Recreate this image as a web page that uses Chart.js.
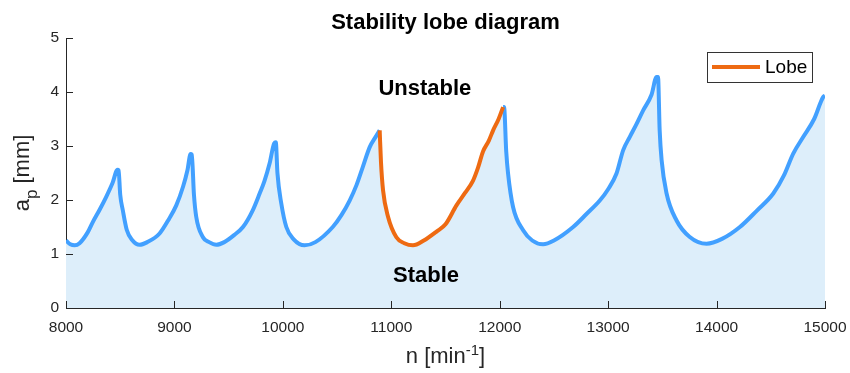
<!DOCTYPE html>
<html>
<head>
<meta charset="utf-8">
<script src="https://cdn.jsdelivr.net/npm/chart.js@4/dist/chart.umd.min.js"></script>
<style>
  html, body { margin: 0; padding: 0; background: #fff; }
  #wrap { width: 850px; height: 373px; }
</style>
</head>
<body>
<div id="wrap"><canvas id="lobeChart"></canvas></div>
<script>
// spindle speed n [min^-1] and stability limit a_p [mm]
var limitN = [8000, 8040, 8080, 8125, 8200, 8247, 8310, 8371, 8430, 8475, 8485, 8500, 8524, 8560, 8610, 8678, 8750, 8863, 8950, 9017, 9080, 9120, 9149, 9160, 9180, 9201, 9263, 9320, 9386, 9460, 9550, 9632, 9720, 9786, 9830, 9878, 9920, 9935, 9950, 9986, 10032, 10100, 10201, 10300, 10460, 10540, 10616, 10680, 10737, 10801, 10850, 10893,
  10905, 10924, 10970, 11047, 11120, 11200, 11300, 11420, 11500, 11601, 11680, 11754, 11800, 11846, 11900, 11939, 11990, 12031,
  12040, 12060, 12077, 12123, 12216, 12300, 12400, 12500, 12677, 12800, 12923, 13000, 13077, 13138, 13200, 13260, 13323, 13400, 13447, 13460, 13475, 13493, 13539, 13631, 13750, 13908, 14050, 14215, 14370, 14523, 14620, 14707, 14800, 14900, 14984, 15000];
var limitAp = [1.25, 1.18, 1.16, 1.20, 1.40, 1.59, 1.82, 2.06, 2.32, 2.56, 2.55, 2.10, 1.81, 1.45, 1.26, 1.17, 1.22, 1.38, 1.65, 1.90, 2.25, 2.55, 2.85, 2.84, 2.10, 1.69, 1.31, 1.22, 1.17, 1.22, 1.35, 1.50, 1.80, 2.12, 2.35, 2.68, 3.05, 3.07, 2.50, 1.93, 1.50, 1.27, 1.16, 1.22, 1.50, 1.72, 1.99, 2.28, 2.61, 2.98, 3.15, 3.29,
  2.70, 2.18, 1.69, 1.31, 1.20, 1.16, 1.25, 1.42, 1.55, 1.90, 2.13, 2.36, 2.60, 2.90, 3.10, 3.29, 3.50, 3.72,
  3.72, 2.90, 2.49, 1.87, 1.44, 1.25, 1.18, 1.25, 1.50, 1.74, 1.99, 2.20, 2.49, 2.92, 3.17, 3.40, 3.66, 3.95, 4.28, 4.28, 3.30, 2.74, 2.12, 1.62, 1.32, 1.19, 1.28, 1.50, 1.80, 2.12, 2.45, 2.86, 3.17, 3.50, 3.91, 3.93];

// one lobe highlighted
var lobeN = [10893, 10905, 10924, 10970, 11047, 11120, 11200, 11300, 11420, 11500, 11601, 11680, 11754, 11800, 11846, 11900, 11939, 11990, 12031];
var lobeAp = [3.29, 2.70, 2.18, 1.69, 1.31, 1.20, 1.16, 1.25, 1.42, 1.55, 1.90, 2.13, 2.36, 2.60, 2.90, 3.10, 3.29, 3.50, 3.72];

var xTicks = [8000, 9000, 10000, 11000, 12000, 13000, 14000, 15000];
var yTicks = [0, 1, 2, 3, 4, 5];

var blue = '#42a0ff';
var orange = '#ee6a12';
var axisColor = '#262626';
var font = '"Liberation Sans", Arial, Helvetica, sans-serif';

var lobeStart = lobeN[0];
var lobeEnd = lobeN[lobeN.length - 1];

function toPoints(xs, ys, skipLobe) {
    var pts = [];
    for (var i = 0; i < xs.length; i++) {
        // leave a gap where the orange lobe is drawn
        if (skipLobe && xs[i] > lobeStart && xs[i] < lobeEnd) {
            pts.push({x: xs[i], y: null});
        } else {
            pts.push({x: xs[i], y: ys[i]});
        }
    }
    return pts;
}

var overlay = {
    id: 'overlay',
    afterDatasetsDraw: function(chart) {
        var ctx = chart.ctx;
        var area = chart.chartArea;
        var x = chart.scales.x;
        var y = chart.scales.y;
        ctx.save();

        // inward tick marks
        ctx.strokeStyle = axisColor;
        ctx.lineWidth = 1;
        ctx.beginPath();
        xTicks.forEach(function(v) {
            var px = Math.round(x.getPixelForValue(v)) + 0.5;
            ctx.moveTo(px, area.bottom);
            ctx.lineTo(px, area.bottom - 7);
        });
        yTicks.forEach(function(v) {
            var py = Math.round(y.getPixelForValue(v)) + 0.5;
            ctx.moveTo(area.left, py);
            ctx.lineTo(area.left + 7, py);
        });
        ctx.stroke();

        // region labels
        ctx.fillStyle = '#000';
        ctx.font = 'bold 22px ' + font;
        ctx.textAlign = 'center';
        ctx.textBaseline = 'middle';
        ctx.fillText('Unstable', x.getPixelForValue(11310), y.getPixelForValue(4.05));
        ctx.fillText('Stable', x.getPixelForValue(11320), y.getPixelForValue(0.6));
        ctx.restore();
    },
    afterDraw: function(chart) {
        var ctx = chart.ctx;
        var area = chart.chartArea;
        var cx = (area.left + area.right) / 2;
        var cy = (area.top + area.bottom) / 2;
        ctx.save();
        ctx.fillStyle = '#000';
        ctx.textBaseline = 'alphabetic';

        // title
        ctx.font = 'bold 22px ' + font;
        ctx.textAlign = 'center';
        ctx.fillText('Stability lobe diagram', cx, 29);

        // x axis title: n [min^-1]
        ctx.fillStyle = axisColor;
        ctx.textAlign = 'left';
        var big = '22px ' + font, small = '15px ' + font;
        ctx.font = big;
        var w1 = ctx.measureText('n [min').width;
        var w3 = ctx.measureText(']').width;
        ctx.font = small;
        var w2 = ctx.measureText('-1').width;
        var sx = cx - (w1 + w2 + w3) / 2;
        var base = 363;
        ctx.font = big;
        ctx.fillText('n [min', sx, base);
        ctx.font = small;
        ctx.fillText('-1', sx + w1, base - 8);
        ctx.font = big;
        ctx.fillText(']', sx + w1 + w2, base);

        // y axis title: a_p [mm]
        ctx.save();
        ctx.translate(28.5, cy);
        ctx.rotate(-Math.PI / 2);
        ctx.font = big;
        var a1 = ctx.measureText('a').width;
        var a3 = ctx.measureText(' [mm]').width;
        ctx.font = '17px ' + font;
        var a2 = ctx.measureText('p').width;
        var ty = -(a1 + a2 + a3) / 2;
        ctx.font = big;
        ctx.fillText('a', ty, 0);
        ctx.font = '17px ' + font;
        ctx.fillText('p', ty + a1, 8);
        ctx.font = big;
        ctx.fillText(' [mm]', ty + a1 + a2, 0);
        ctx.restore();

        // legend box
        var ds = chart.data.datasets[2];
        ctx.fillStyle = '#fff';
        ctx.fillRect(707, 52, 105, 30);
        ctx.strokeStyle = '#333';
        ctx.lineWidth = 1;
        ctx.strokeRect(707.5, 52.5, 105, 30);
        ctx.strokeStyle = ds.borderColor;
        ctx.lineWidth = 4;
        ctx.beginPath();
        ctx.moveTo(712, 67);
        ctx.lineTo(760, 67);
        ctx.stroke();
        ctx.fillStyle = '#000';
        ctx.font = '19px ' + font;
        ctx.textBaseline = 'middle';
        ctx.fillText(ds.label, 765, 68);
        ctx.restore();
    }
};

var chart = new Chart(document.getElementById('lobeChart').getContext('2d'), {
    type: 'line',
    data: {
        datasets: [
            {
                label: 'Stable region',
                data: toPoints(limitN, limitAp, false),
                borderWidth: 0,
                borderColor: 'rgba(0,0,0,0)',
                backgroundColor: '#ddeefa',
                fill: 'origin',
                pointRadius: 0,
                cubicInterpolationMode: 'monotone',
                order: 3
            },
            {
                label: 'Stability limit',
                data: toPoints(limitN, limitAp, true),
                borderColor: blue,
                borderWidth: 4,
                fill: false,
                spanGaps: false,
                pointRadius: 0,
                cubicInterpolationMode: 'monotone',
                order: 2
            },
            {
                label: 'Lobe',
                data: toPoints(lobeN, lobeAp, false),
                borderColor: orange,
                borderWidth: 4,
                fill: false,
                pointRadius: 0,
                cubicInterpolationMode: 'monotone',
                order: 1
            }
        ]
    },
    options: {
        responsive: true,
        maintainAspectRatio: false,
        animation: false,
        layout: { padding: { left: 0, top: 38, right: 25, bottom: 0 } },
        plugins: {
            legend: { display: false },
            title: { display: false },
            tooltip: { enabled: false }
        },
        scales: {
            x: {
                type: 'linear',
                min: 8000,
                max: 15000,
                afterBuildTicks: function(scale) {
                    scale.ticks = xTicks.map(function(v) { return {value: v}; });
                },
                afterFit: function(scale) {
                    scale.height = 65;
                    scale.paddingLeft = 0;
                    scale.paddingRight = 0;
                },
                grid: { display: true, drawOnChartArea: false, drawTicks: false },
                border: { display: true, color: axisColor, width: 1 },
                ticks: {
                    padding: 10,
                    maxRotation: 0,
                    color: axisColor,
                    font: { family: font, size: 15.5 },
                    callback: function(v) { return String(v); }
                }
            },
            y: {
                min: 0,
                max: 5,
                afterBuildTicks: function(scale) {
                    scale.ticks = yTicks.map(function(v) { return {value: v}; });
                },
                afterFit: function(scale) {
                    scale.width = 66;
                    scale.paddingTop = 0;
                    scale.paddingBottom = 0;
                },
                grid: { display: true, drawOnChartArea: false, drawTicks: false },
                border: { display: true, color: axisColor, width: 1 },
                ticks: {
                    padding: 7,
                    color: axisColor,
                    font: { family: font, size: 15.5 }
                }
            }
        }
    },
    plugins: [overlay]
});
</script>
</body>
</html>
